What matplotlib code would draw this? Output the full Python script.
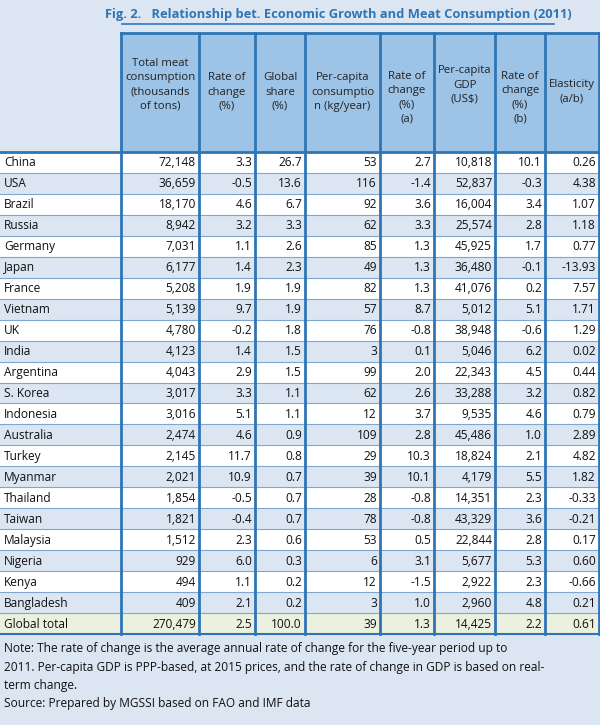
import matplotlib
matplotlib.use("Agg")
import matplotlib.pyplot as plt
from matplotlib.patches import Rectangle

countries = ["China","USA","Brazil","Russia","Germany","Japan","France","Vietnam","UK","India",
             "Argentina","S. Korea","Indonesia","Australia","Turkey","Myanmar","Thailand","Taiwan",
             "Malaysia","Nigeria","Kenya","Bangladesh","Global total"]
total_meat = ["72,148","36,659","18,170","8,942","7,031","6,177","5,208","5,139","4,780","4,123",
              "4,043","3,017","3,016","2,474","2,145","2,021","1,854","1,821","1,512","929","494","409","270,479"]
rate_total = ["3.3","-0.5","4.6","3.2","1.1","1.4","1.9","9.7","-0.2","1.4","2.9","3.3","5.1","4.6",
              "11.7","10.9","-0.5","-0.4","2.3","6.0","1.1","2.1","2.5"]
global_share = ["26.7","13.6","6.7","3.3","2.6","2.3","1.9","1.9","1.8","1.5","1.5","1.1","1.1","0.9",
                "0.8","0.7","0.7","0.7","0.6","0.3","0.2","0.2","100.0"]
per_capita = ["53","116","92","62","85","49","82","57","76","3","99","62","12","109","29","39","28",
              "78","53","6","12","3","39"]
rate_a = ["2.7","-1.4","3.6","3.3","1.3","1.3","1.3","8.7","-0.8","0.1","2.0","2.6","3.7","2.8","10.3",
          "10.1","-0.8","-0.8","0.5","3.1","-1.5","1.0","1.3"]
gdp = ["10,818","52,837","16,004","25,574","45,925","36,480","41,076","5,012","38,948","5,046","22,343",
       "33,288","9,535","45,486","18,824","4,179","14,351","43,329","22,844","5,677","2,922","2,960","14,425"]
rate_b = ["10.1","-0.3","3.4","2.8","1.7","-0.1","0.2","5.1","-0.6","6.2","4.5","3.2","4.6","1.0","2.1",
          "5.5","2.3","3.6","2.8","5.3","2.3","4.8","2.2"]
elasticity = ["0.26","4.38","1.07","1.18","0.77","-13.93","7.57","1.71","1.29","0.02","0.44","0.82","0.79",
              "2.89","4.82","1.82","-0.33","-0.21","0.17","0.60","-0.66","0.21","0.61"]
headers = ["Total meat\nconsumption\n(thousands\nof tons)", "Rate of\nchange\n(%)", "Global\nshare\n(%)",
           "Per-capita\nconsumptio\nn (kg/year)", "Rate of\nchange\n(%)\n(a)", "Per-capita\nGDP\n(US$)",
           "Rate of\nchange\n(%)\n(b)", "Elasticity\n(a/b)"]
title = "Fig. 2.   Relationship bet. Economic Growth and Meat Consumption (2011)"
note = ("Note: The rate of change is the average annual rate of change for the five-year period up to\n"
        "2011. Per-capita GDP is PPP-based, at 2015 prices, and the rate of change in GDP is based on real-\n"
        "term change.\nSource: Prepared by MGSSI based on FAO and IMF data")

cols = [total_meat, rate_total, global_share, per_capita, rate_a, gdp, rate_b, elasticity]
xb = [0, 121, 199, 255, 305, 380, 434, 495, 545, 599]

FONT = "Open Sans"
fig = plt.figure(figsize=(6.0, 7.25), dpi=100)
fig.patch.set_facecolor("#dce6f2")
ax = fig.add_axes([0, 0, 1, 1])
ax.set_xlim(0, 600); ax.set_ylim(725, 0); ax.axis("off")

blue = "#2e75b6"
ax.text(338, 14, title, ha="center", va="center", fontsize=9.3, fontweight="bold",
        color="#2e75b6", family=FONT)
ax.plot([122, 554], [24, 24], color="#2e75b6", lw=1.2)

htop, hbot = 33, 152
ax.add_patch(Rectangle((xb[1], htop), xb[-1]-xb[1], hbot-htop, facecolor="#9dc3e6", edgecolor="none"))
centers_y = [85, 92, 92, 92, 98, 85, 98, 92]
for i, h in enumerate(headers):
    cx = (xb[i+1]+xb[i+2])/2
    ax.text(cx, centers_y[i], h, ha="center", va="center", fontsize=8.2,
            linespacing=1.4, family=FONT, color="#222222")

nrows = len(countries)
rh = (634 - 152) / nrows
for r in range(nrows):
    y0 = 152 + r*rh
    if r == nrows-1:
        fc = "#ebf1de"
    elif r % 2 == 1:
        fc = "#dce6f2"
    else:
        fc = "white"
    ax.add_patch(Rectangle((0, y0), 600, rh, facecolor=fc, edgecolor="none"))
    ax.plot([0, 600], [y0, y0], color="#7fa6cf", lw=0.8)
    yc = y0 + rh/2 + 0.5
    ax.text(4, yc, countries[r], ha="left", va="center", fontsize=8.6, family=FONT, color="#111111")
    for c, vals in enumerate(cols):
        ax.text(xb[c+2]-3, yc, vals[r], ha="right", va="center", fontsize=8.6, family=FONT, color="#111111")
ax.plot([0, 600], [634, 634], color=blue, lw=1.5)
ax.plot([0, 600], [152, 152], color=blue, lw=2)
ax.plot([121, 600], [htop, htop], color=blue, lw=2)
for x in xb[1:]:
    ax.plot([x, x], [htop, 634], color=blue, lw=2)

ax.text(4, 642, note, ha="left", va="top", fontsize=8.6, family=FONT, linespacing=1.55, color="#111111")
fig.savefig("out.png", dpi=100, facecolor=fig.get_facecolor())
